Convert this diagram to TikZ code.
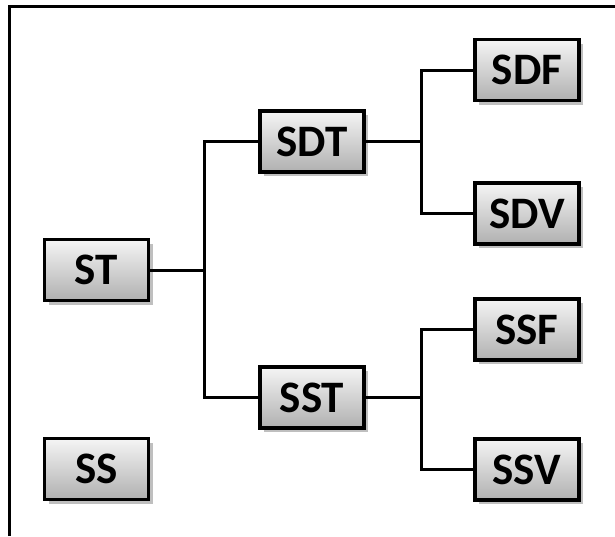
\documentclass[tikz,border=0pt]{standalone}
\usepackage{fontspec}
\setmainfont{Carlito}
\usetikzlibrary{shadows}
\begin{document}
\begin{tikzpicture}[x=1pt,y=-1pt,
  box/.style={draw=black, line width=3.4pt, minimum width=104pt, minimum height=61pt,
    top color=gray!8, bottom color=gray!62, inner sep=0pt,
    font=\fontsize{45}{45}\selectfont\bfseries,
    drop shadow={shadow xshift=4pt, shadow yshift=-4pt, fill=black, opacity=0.25}},
  conn/.style={line width=3pt, line join=miter}]
\useasboundingbox (0,0) rectangle (615,536);
\draw[line width=3pt] (9,536) -- (9,6) -- (615,6);
\node[box] (ST)  at (96.5,270) {ST};
\node[box] (SS)  at (96.5,469) {SS};
\node[box] (SDT) at (312,141.5) {SDT};
\node[box] (SST) at (312,397.5) {SST};
\node[box] (SDF) at (527,70) {SDF};
\node[box] (SDV) at (527,213.5) {SDV};
\node[box] (SSF) at (527,329.5) {SSF};
\node[box] (SSV) at (527,469.5) {SSV};
\coordinate (j1) at (204,270);
\coordinate (j2) at (421,141.5);
\coordinate (j3) at (421,397.5);
\draw[conn] (ST.east) -- (j1);
\draw[conn] (SDT.west) -| (j1) |- (SST.west);
\draw[conn] (SDT.east) -- (j2);
\draw[conn] (SDF.west) -| (j2) |- (SDV.west);
\draw[conn] (SST.east) -- (j3);
\draw[conn] (SSF.west) -| (j3) |- (SSV.west);
\end{tikzpicture}
\end{document}
